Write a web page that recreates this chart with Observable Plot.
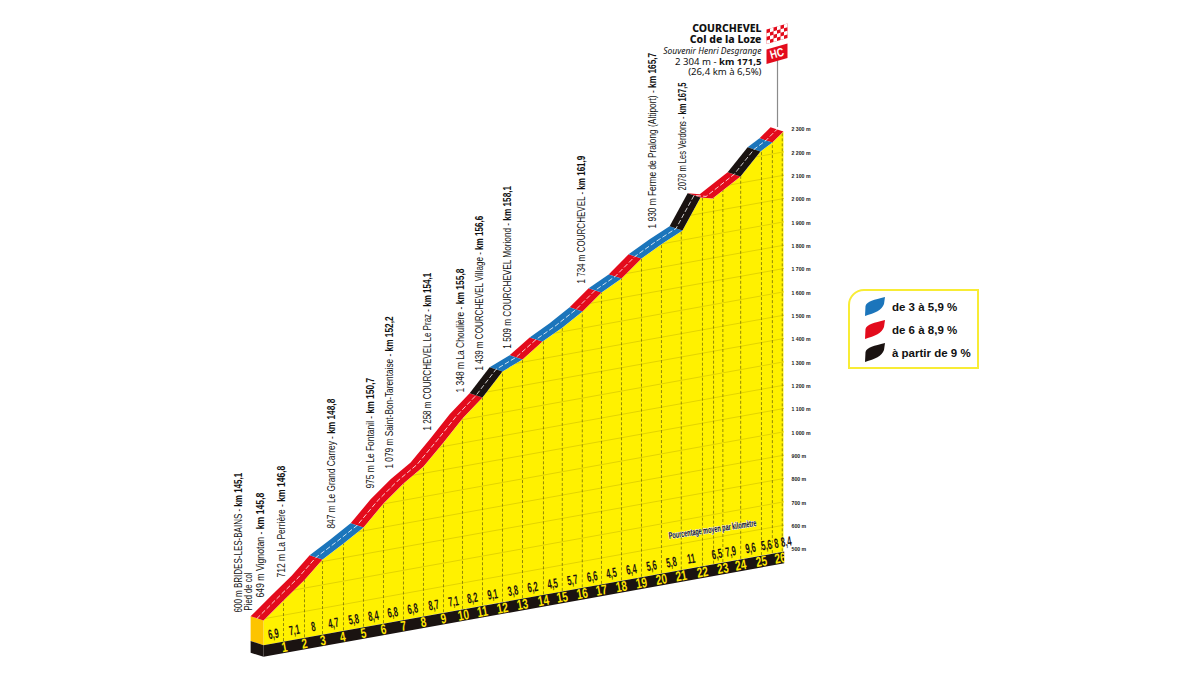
<!DOCTYPE html>
<html lang="fr"><head><meta charset="utf-8">
<script src="https://cdn.jsdelivr.net/npm/d3@7"></script>
<script src="https://cdn.jsdelivr.net/npm/@observablehq/plot@0.6"></script>
<style>
html,body{margin:0;padding:0;background:#fff;width:1200px;height:675px;overflow:hidden}
#chart{position:absolute;left:0;top:0}
#legend{position:absolute;left:848px;top:289px;width:127px;height:76px;border:2px solid #f8ec35;border-top-left-radius:16px;background:#fff;font:bold 11.5px "Liberation Sans",sans-serif;color:#111}
#legend div{position:absolute;left:15px;display:flex;align-items:center;gap:6px;height:20px;white-space:nowrap}
</style></head><body>
<div id="chart"></div>
<div id="legend"></div>
<script>
// distance from the start (km) and altitude (m) along the front edge of the road
const profKm  = [0,1.01,2.07,2.98,4.04,5.05,6.06,7.07,8.08,9.09,10.05,11.06,12.07,13.08,14.09,15.1,16.11,17.07,18.08,19.09,20.15,21.16,22.07,22.68,24.09,25.1,25.7,26.26];
const profAlt = [593,663,735,809,861,914,1002,1072,1129,1217,1305,1380,1476,1512,1573,1618,1671,1738,1782,1853,1901,1941,2069,2055,2128,2220,2249,2288];
const segBreaks = [0,2.98,5.05,11.06,12.07,13.08,14.09,16.11,17.07,18.08,19.09,21.16,22.07,24.09,25.1,25.7,26.26];
const segClass  = ["r","b","r","k","b","r","b","r","b","r","b","k","r","k","b","r"];
const kmLines = [1.01,2.07,2.98,4.04,5.05,6.06,7.07,8.08,9.09,10.05,11.06,12.07,13.08,14.14,15.09,16.1,17.07,18.08,19.09,20.1,21.1,22.17,22.73,23.2,24.1,25.15,25.7,26.2];
const kmNumbers = ["1","2","3","4","5","6","7","8","9","10","11","12","13","14","15","16","17","18","19","20","21","22","23","24","25","26"];
const kmNumberPos = [1.06,2.07,3,4,5.05,6.06,7.07,8.08,9.09,10.1,11.06,12.07,13.08,14.14,15.09,16.1,17.07,18.08,19.09,20.1,21.1,22.17,23.2,24.1,25.15,26.1];
const pctLabels = ["6,9","7,1","8","4,7","5,8","8,4","6,8","6,8","8,7","7,1","8,2","9,1","3,8","6,2","4,5","5,7","6,6","4,5","6,4","5,6","5,8","11","6,5","7,9","9,6","5,6","8","8,4"];
const pctPos = [0.5,1.56,2.52,3.53,4.55,5.55,6.52,7.53,8.6,9.6,10.55,11.57,12.6,13.6,14.6,15.6,16.6,17.57,18.58,19.6,20.6,21.6,22.9,23.6,24.6,25.4,25.9,26.4];
const altTicks = [500,600,700,800,900,1000,1100,1200,1300,1400,1500,1600,1700,1800,1900,2000,2100,2200,2300];
const placeLabels = ["600 m BRIDES-LES-BAINS - km 145,1","Pied de col","649 m Vignotan - km 145,8","712 m La Perrière - km 146,8","847 m Le Grand Carrey - km 148,8","975 m Le Fontanil - km 150,7","1 079 m Saint-Bon-Tarentaise - km 152,2","1 258 m COURCHEVEL Le Praz - km 154,1","1 348 m La Choulière - km 155,8","1 439 m COURCHEVEL Village - km 156,6","1 509 m COURCHEVEL Moriond - km 158,1","1 734 m COURCHEVEL - km 161,9","1 930 m Ferme de Pralong (Altiport) - km 165,7","2078 m Les Verdons - km 167,5"];
const placeKm = [-1.26,-0.76,-0.15,0.91,3.43,5.4,6.36,8.28,9.95,10.9,12.32,16.1,19.65,21.16];
const placeY  = [230,239,294,380,590,761,847,1010,1173,1267,1361,1640,1876,2039];
const placeLen = [140,38,105,112,130,111,152,158,124,155,163,128,176,108];
const legendLabels = ["de 3 à 5,9 %","de 6 à 8,9 %","à partir de 9 %"];

const COL = {r:"#e30b1c", b:"#1b75bb", k:"#1a1311", y:"#fff100", o:"#fdc400", grid:"#e3d400", dash:"#77700a"};
const SKEW = 15.27, BASE = 487, LOW = 437, BACKX = 0.65, BACKY = 18;
const app = (d, a) => a - SKEW * (26 - d);     // oblique view: apparent height at km d
const END = 26.26;
const pxX = p => (p - 263) / 19.8, pxY = p => 500 + (549 - p) / 0.23333; // for decorations placed on the page

const pts = profKm.map((d, i) => ({d, y: app(d, profAlt[i])}));
const poly = (arr) => arr.map(([x, y]) => ({x, y}));
const fillMark = (rows, fill) => Plot.line(rows, {x:"x", y:"y", z:"id", fill, stroke:"none"});
const withId = (id, arr) => poly(arr).map(o => ({...o, id}));
const tag = (name) => ({render(i, s, v, d, c, next){ const g = next(i, s, v, d, c); g.setAttribute("class", name); return g; }});

const baseFill = withId("y", [[0,app(0,BASE)],[END,app(END,BASE)],...pts.slice().reverse().map(p=>[p.d,p.y])]);
const sky = withId("s", [...pts.map(p => [p.d, p.y]), [END+.15, pts[pts.length-1].y], [END+.15, 3000], [-.15, 3000], [-.15, pts[0].y]]);
const faceO = withId("o", [[-BACKX,pts[0].y+BACKY],[0,pts[0].y],[0,app(0,BASE)],[-BACKX,app(0,BASE)+BACKY]]);
const faceK = withId("k", [[-BACKX,app(0,BASE)+BACKY],[0,app(0,BASE)],[0,app(0,LOW)],[-BACKX,app(0,LOW)+BACKY]]);
const frontK = withId("f", [[0,app(0,BASE)],[END+.05,app(END,BASE)],[END+.05,app(END,LOW)],[0,app(0,LOW)]]);

const band = {r:[], b:[], k:[]};
segClass.forEach((c, i) => {
  const seg = pts.filter(p => p.d >= segBreaks[i] && p.d <= segBreaks[i+1]);
  band[c].push(...withId("s"+i, [...seg.map(p => [p.d,p.y]), ...seg.slice().reverse().map(p => [p.d-BACKX,p.y+BACKY])]));
});
const centre = pts.map(p => ({x:p.d-BACKX/2, y:p.y+BACKY/2}));

const gridRows = altTicks.slice(1,-1).flatMap(a => [0,END].map(d => ({a, x:d, y:app(d,a)})));

// flags
const flagX0 = pxX(766), flagX1 = pxX(787);
const flagPt = (u, v, top) => [flagX0 + (flagX1-flagX0)*u, pxY(top - 6*u + 14.5*v)];
const flagCols = [0,1,2,3,4,5], flagRows = [0,1,2,3];
const cell = (c, r) => [[c,r],[c+1,r],[c+1,r+1],[c,r+1]].map(([u,v]) => flagPt(u/6, v/4, 29));
const flagWhite = flagCols.flatMap(c => flagRows.filter(r => (r+c)%2).flatMap(r => withId(`c${c}${r}`, cell(c,r))));
const flagRed = withId("fr", [flagPt(0,0,29),flagPt(1,0,29),flagPt(1,1,29),flagPt(0,1,29)]);
const hcRed = withId("hc", [flagPt(0,0,49),flagPt(1,0,49),flagPt(1,1,49),flagPt(0,1,49)]);

const placeData = placeLabels.map((t,i) => ({t, x:placeKm[i], y:placeY[i]}));
const pctData = pctLabels.map((t,i) => ({t, x:pctPos[i], y:app(pctPos[i],BASE+40)}));
const numData = kmNumbers.map((t,i) => ({t, x:kmNumberPos[i], y:app(kmNumberPos[i],BASE-26)}));
const tickData = altTicks.map(a => ({t:d3.format(",")(a).replace(","," ")+" m", x:pxX(791), y:a}));
const headRow = (t, py) => ({t, x:pxX(761), y:pxY(py)});
const headBold = [headRow("COURCHEVEL",28), headRow("Col de la Loze",39)];
const headItalic = [headRow("Souvenir Henri Desgrange",50.5)];
const headPlain = [headRow("2 304 m - km 171,5",61), headRow("(26,4 km à 6,5%)",71)];
const headFont = "'Noto Sans',sans-serif";

const chart = Plot.plot({
  width:1200, height:675, margin:0,
  style:{background:"#fff", fontFamily:"'Liberation Sans',sans-serif"},
  x:{domain:[-13.283,47.323], range:[0,1200], axis:null},
  y:{domain:[-40,2853.1], range:[675,0], axis:null},
  marks:[
    fillMark(baseFill, COL.y),
    Plot.line(gridRows, {x:"x", y:"y", z:"a", stroke:COL.grid, strokeWidth:1}),
    Plot.ruleX(kmLines, {x:d=>d, y1:d=>app(d,BASE), y2:3000, stroke:COL.dash, strokeWidth:0.8, strokeDasharray:"3,2"}),
    fillMark(sky, "#fff"),
    fillMark(faceO, COL.o),
    fillMark(faceK, COL.k),
    fillMark(frontK, COL.k),
    fillMark(band.r, COL.r), fillMark(band.b, COL.b), fillMark(band.k, COL.k),
    Plot.line(centre, {x:"x", y:"y", stroke:"#fff", strokeWidth:0.8, strokeDasharray:"4,3"}),
    Plot.text(numData, {x:"x", y:"y", text:"t", rotate:-10, fill:"#ffe600", fontSize:14, fontWeight:"bold", ...tag("kmnum")}),
    fillMark(withId("m", [[END+.05,pxY(640)],[END+2,pxY(640)],[END+2,pxY(550)],[END+.05,pxY(550)]]), "#fff"),
    Plot.text(pctData, {x:"x", y:"y", text:"t", rotate:-10, fill:"#1a1311", fontSize:13.5, fontWeight:"bold", ...tag("pct")}),
    Plot.text([{t:"Pourcentage moyen par kilomètre", x:pxX(712), y:pxY(529)}], {x:"x", y:"y", text:"t", rotate:-8.5, fill:"#0a0a1e", stroke:"#fff", strokeWidth:1, fontSize:9.5, fontWeight:"bold", ...tag("pcttitle")}),
    Plot.text(tickData, {x:"x", y:"y", text:"t", textAnchor:"start", fontSize:5.2, fontWeight:"bold", fill:"#222"}),
    Plot.text(placeData, {x:"x", y:"y", text:"t", rotate:-90, textAnchor:"start", fontSize:10, fill:"#111", ...tag("places")}),
    Plot.ruleX([pxX(777)], {y1:pxY(127), y2:pxY(57), stroke:"#8b8b8b", strokeWidth:1.2}),
    fillMark(flagRed, COL.r), fillMark(flagWhite, "#fff"), fillMark(hcRed, COL.r),
    Plot.text([{t:"HC", x:pxX(776.5), y:pxY(53)}], {x:"x", y:"y", text:"t", rotate:-15, fill:"#fff", fontSize:12, fontWeight:"bold", ...tag("hc")}),
    Plot.text(headBold, {x:"x", y:"y", text:"t", textAnchor:"end", fontSize:10.5, fontWeight:800, fontFamily:headFont, lineHeight:0.9, fill:"#111"}),
    Plot.text(headItalic, {x:"x", y:"y", text:"t", textAnchor:"end", fontSize:8.5, fontStyle:"italic", fontFamily:headFont, fill:"#111"}),
    Plot.text(headPlain, {x:"x", y:"y", text:"t", textAnchor:"end", fontSize:9.6, fontFamily:headFont, fill:"#111", ...tag("headplain")})
  ]
});
document.getElementById("chart").append(chart);

// bold kilometre references, condensed lettering
const texts = (name) => chart.querySelectorAll(`.${name} text`);
const squeeze = (name, sx) => texts(name).forEach(t => {
  t.setAttribute("transform", (t.getAttribute("transform")||"") + ` scale(${sx},1)`);
});
const boldKm = (name) => texts(name).forEach(t => {
  const m = t.textContent.match(/^(.*?)(km \d+,\d)$/);
  if (!m) return;
  t.textContent = m[1];
  const s = document.createElementNS("http://www.w3.org/2000/svg","tspan");
  s.setAttribute("font-weight","bold"); s.textContent = m[2]; t.append(s);
});
boldKm("places"); boldKm("headplain");
// each place label is condensed to the length it has in the reference
texts("places").forEach((t, i) => {
  const sx = placeLen[i] / t.getComputedTextLength();
  t.setAttribute("transform", t.getAttribute("transform") + ` scale(${sx.toFixed(3)},1)`);
});
squeeze("kmnum", 0.72); squeeze("pct", 0.56); squeeze("pcttitle", 0.58); squeeze("hc", 0.8);

// legend
const legend = document.getElementById("legend");
[COL.b, COL.r, COL.k].forEach((c, i) => {
  const row = document.createElement("div");
  row.style.top = (6 + i*23) + "px";
  row.innerHTML = `<svg width="21" height="20" viewBox="0 0 21 20"><path fill="${c}" d="M0,19 L0.5,9 C2,4 9,3 20,0 L19,7 C17,13 10,16 0,19Z"/></svg><span>${legendLabels[i]}</span>`;
  legend.append(row);
});
</script>
</body></html>
